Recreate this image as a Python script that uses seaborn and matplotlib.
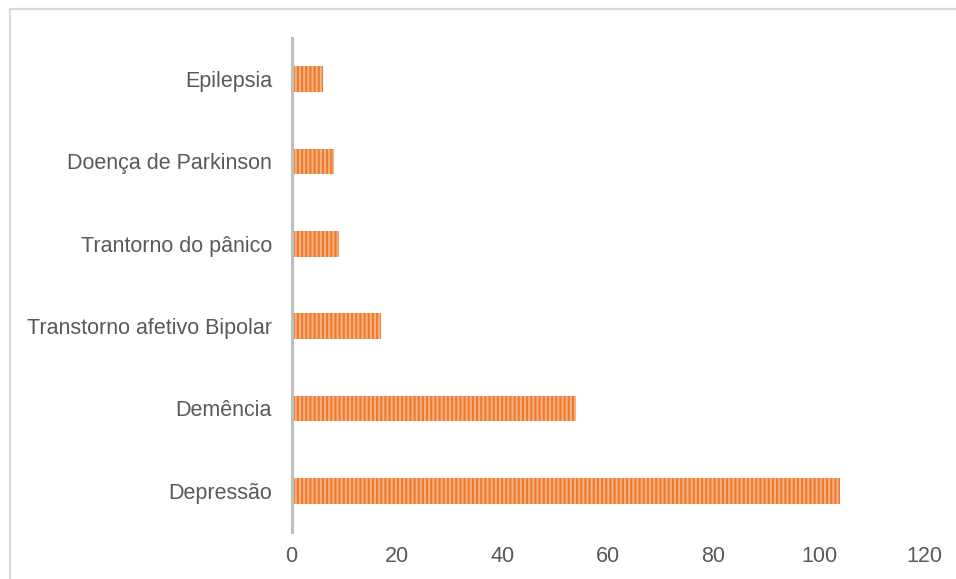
import matplotlib
matplotlib.use("Agg")
import matplotlib.pyplot as plt
from matplotlib.lines import Line2D
import seaborn as sns
import pandas as pd

# Data
categories = ["Epilepsia", "Doença de Parkinson", "Trantorno do pânico",
              "Transtorno afetivo Bipolar", "Demência", "Depressão"]
values = [6, 8, 9, 17, 54, 104]
xticks = [0, 20, 40, 60, 80, 100, 120]

df = pd.DataFrame({"categoria": categories, "valor": values})

sns.set_theme(style="white")
plt.rcParams["font.family"] = ["Liberation Sans", "DejaVu Sans"]
plt.rcParams["hatch.linewidth"] = 1.6
plt.rcParams["hatch.color"] = "#EE7C2E"

fig = plt.figure(figsize=(9.56, 5.79), dpi=100)
ax = fig.add_axes([291.5 / 956, 47 / 579, 633 / 956, 494 / 579])

sns.barplot(data=df, x="valor", y="categoria", orient="h", ax=ax,
            color="#F6B283", width=0.31, saturation=1, edgecolor="none")
for patch in ax.patches:
    patch.set_hatch("||||")
    patch.set_edgecolor("#EE7C2E")
    patch.set_linewidth(0)

ax.set_xlim(0, 120)
ax.set_xticks(xticks)
ax.set_xticklabels([str(t) for t in xticks])
ax.set_xlabel("")
ax.set_ylabel("")

for side in ["top", "right", "bottom"]:
    ax.spines[side].set_visible(False)
ax.spines["left"].set_color("#BFBFBF")
ax.spines["left"].set_linewidth(2.2)

ax.tick_params(axis="x", length=0, pad=10, labelsize=15.5, labelcolor="#595959")
ax.tick_params(axis="y", length=0, pad=14, labelsize=15.5, labelcolor="#595959")
ax.grid(False)

# Outer chart frame (left and top edges)
frame_kw = dict(color="#D9D9D9", linewidth=1.6, transform=fig.transFigure)
fig.add_artist(Line2D([10 / 956, 10 / 956], [0, 1 - 9 / 579], **frame_kw))
fig.add_artist(Line2D([10 / 956, 1], [1 - 9 / 579, 1 - 9 / 579], **frame_kw))

fig.savefig("out.png", dpi=100, facecolor="white")
